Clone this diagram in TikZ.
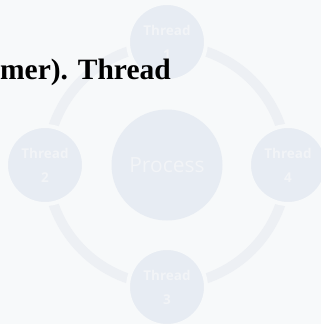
\documentclass[tikz,border=0pt]{standalone}
\usepackage{fontspec}
\newfontfamily\labelfont{Open Sans}
\newfontfamily\headfont{Liberation Serif}
\definecolor{bgcol}{HTML}{F7F9FA}
\definecolor{blobcol}{HTML}{E7ECF3}
\definecolor{ringcol}{HTML}{EDF0F4}
\definecolor{softtext}{HTML}{F2F4F7}
\tikzset{
  thread/.style={circle,fill=blobcol,draw=bgcol,line width=4pt,minimum size=78pt,inner sep=0pt,
    align=center,text=softtext,font=\labelfont\bfseries\fontsize{13.5}{24}\selectfont},
}
\begin{document}
\begin{tikzpicture}[x=1pt,y=-1pt]
        \fill[bgcol] (0,0) rectangle (321,324);
        \useasboundingbox (0,0) rectangle (321,324);
        \node[circle,fill=blobcol,minimum size=111pt,inner sep=0pt,text=softtext,
          font=\labelfont\fontsize{21}{24}\selectfont] (proc) at (167,165) {Process};
        \draw[ringcol,line width=10pt] (proc.center) circle (120pt);
        \foreach \n/\x/\y in {1/167/42,2/45/165,3/167/287,4/288/165}
        \node[thread] (t\n) at (\x,\y) {Thread\\\n};
        \node[anchor=base east,inner sep=0pt,font=\headfont\bfseries\fontsize{29.5}{32}\selectfont] (head) at (171,79) {mer). Thread};
    \end{tikzpicture}
\end{document}
